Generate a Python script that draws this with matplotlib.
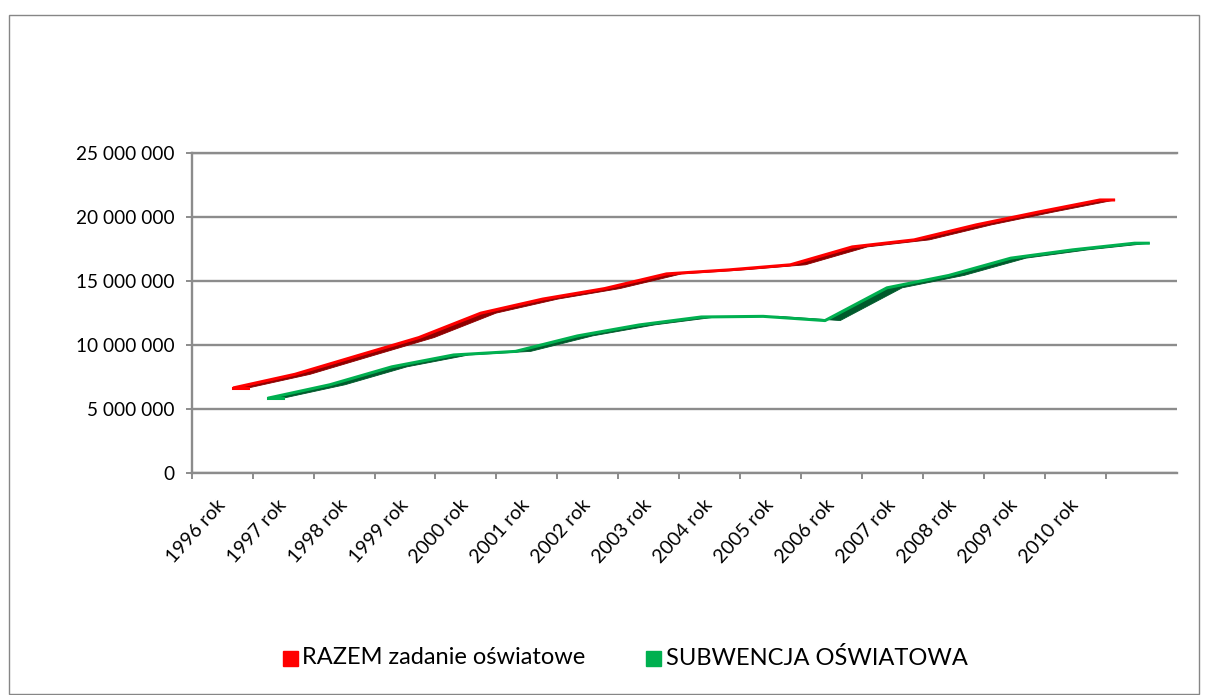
import numpy as np
import matplotlib
matplotlib.use('Agg')
import matplotlib.pyplot as plt
from matplotlib.patches import Rectangle, Polygon

plt.rcParams['font.family'] = ['Lato', 'DejaVu Sans']

# dane (zl)
lata = ['1996 rok', '1997 rok', '1998 rok', '1999 rok', '2000 rok', '2001 rok',
        '2002 rok', '2003 rok', '2004 rok', '2005 rok', '2006 rok', '2007 rok',
        '2008 rok', '2009 rok', '2010 rok']
razem = [6.65, 7.72, 9.16, 10.59, 12.50, 13.60, 14.42, 15.57, 15.88, 16.28,
         17.68, 18.23, 19.40, 20.40, 21.35]
subwencja = [5.85, 6.90, 8.30, 9.23, 9.51, 10.72, 11.58, 12.20, 12.25, 11.92,
             14.48, 15.45, 16.80, 17.45, 17.97]
nazwy = ['RAZEM zadanie oświatowe', 'SUBWENCJA OŚWIATOWA']
kolory = ['#FF0000', '#00B050']
ciemne = ['#8E0000', '#005A2C']

W, H = 1206, 695
fig = plt.figure(figsize=(W / 100, H / 100), dpi=100)
ax = fig.add_axes([191.7 / W, 1 - 473 / H, (1177 - 191.7) / W, (473 - 153.3) / H])

n = len(lata)
idx = np.arange(n)
# przesuniecie serii w glab (efekt 3D)
pozycje = [idx * 1.016 + 0.18, idx * 1.016 + 0.75]
glebia = 0.25


def wstega(x, y, jasny, ciemny):
    pts = list(zip(x, y)) + list(zip(x[::-1] + glebia, y[::-1]))
    ax.add_patch(Polygon(pts, closed=True, facecolor=ciemny, edgecolor=ciemny,
                         lw=0.6, zorder=3))
    ax.plot(np.r_[x, x[-1] + glebia], np.r_[y, y[-1]], color=jasny, lw=2.2,
            solid_capstyle='butt', zorder=4)
    ax.plot([x[0], x[0] + glebia], [y[0], y[0]], color=jasny, lw=2.2, zorder=4)


for x, vals, k, c in zip(pozycje, [razem, subwencja], kolory, ciemne):
    wstega(x, np.array(vals) * 1e6, k, c)

ax.set_xlim(-0.5, 15.67)
ax.set_ylim(0, 25e6)
ax.set_yticks(np.arange(0, 25e6 + 1, 5e6))
ax.set_yticklabels(['{:,}'.format(int(v)).replace(',', ' ') for v in np.arange(0, 25e6 + 1, 5e6)],
                   fontsize=13.7)
ax.set_xticks(np.arange(16) - 0.5)
ax.set_xticklabels([])
ax.set_xticks(idx, minor=True)
ax.set_xticklabels(lata, minor=True, rotation=48, ha='right', va='center',
                   rotation_mode='anchor', fontsize=14)
ax.tick_params(axis='x', which='minor', length=0, pad=21)
ax.tick_params(axis='x', which='major', length=4.5, color='#8C8C8C', width=1.4)
ax.tick_params(axis='y', length=4.5, color='#8C8C8C', width=1.4, pad=8)

ax.grid(axis='y', color='#8C8C8C', lw=1.7, zorder=1)
for s in ['top', 'right']:
    ax.spines[s].set_visible(False)
for s in ['left', 'bottom']:
    ax.spines[s].set_color('#8C8C8C')
    ax.spines[s].set_linewidth(1.7)
ax.axhline(25e6, color='#8C8C8C', lw=1.7, clip_on=False, zorder=1)
ax.set_axisbelow(True)

# legenda
fig.patches.append(Rectangle((283 / W, 1 - 666 / H), 15 / W, 15 / H, color=kolory[0],
                             transform=fig.transFigure))
fig.text(302 / W, 1 - 658 / H, nazwy[0], fontsize=17, va='center', ha='left')
fig.patches.append(Rectangle((646 / W, 1 - 666 / H), 15 / W, 15 / H, color=kolory[1],
                             transform=fig.transFigure))
fig.text(666 / W, 1 - 658 / H, nazwy[1], fontsize=17, va='center', ha='left')

# ramka wykresu
fig.patches.append(Rectangle((8.5 / W, 1 / H), (1199 - 8.5) / W, (680 - 1) / H, fill=False,
                             edgecolor='#868686', lw=1, transform=fig.transFigure))

fig.savefig('out.png', dpi=100)
